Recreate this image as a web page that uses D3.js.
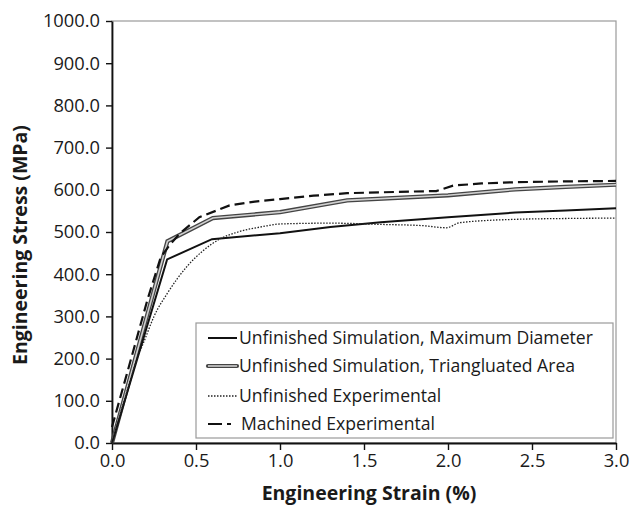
<!DOCTYPE html>
<html>
<head>
<meta charset="utf-8">
<script src="https://cdn.jsdelivr.net/npm/d3@7"></script>
<style>
  body { margin: 0; background: #fff; }
  svg { display: block; }
  .tick text { font-family: "Open Sans", sans-serif; font-size: 18.3px; fill: #1a1a1a; }
</style>
</head>
<body>
<div id="chart"></div>
<script>
// strain (%) vs stress (MPa)
const unfinishedSimMaxDiameter = [
  [0, 0], [0.328, 435], [0.595, 483], [1.0, 497], [1.3, 512], [1.6, 523], [2.0, 535], [2.4, 546], [2.7, 551], [3.0, 556]
];
const unfinishedSimTriangulated = [
  [0, 0], [0.33, 478], [0.6, 533], [1.0, 547], [1.4, 575], [2.0, 587], [2.4, 601], [2.7, 607], [3.0, 612]
];
const unfinishedExperimental = [
  [0, 0], [0.08, 110], [0.15, 200], [0.2, 250], [0.25, 300], [0.33, 355], [0.45, 420], [0.54, 455],
  [0.64, 483], [0.75, 500], [0.9, 513], [1.0, 519], [1.3, 521], [1.6, 518], [1.85, 515],
  [1.99, 510], [2.07, 522], [2.4, 530], [2.7, 532], [3.0, 533]
];
const machinedExperimental = [
  [0, 38], [0.1, 180], [0.21, 338], [0.29, 440], [0.345, 470], [0.405, 497], [0.52, 535], [0.7, 563],
  [0.85, 572], [1.0, 578], [1.2, 586], [1.4, 592], [1.6, 594], [1.8, 596], [1.93, 597], [2.03, 610],
  [2.2, 615], [2.4, 618], [2.7, 620], [3.0, 621]
];
const xTicks = [0, 0.5, 1.0, 1.5, 2.0, 2.5, 3.0];
const yTicks = [0, 100, 200, 300, 400, 500, 600, 700, 800, 900, 1000];
const legendLabels = [
  "Unfinished Simulation, Maximum Diameter",
  "Unfinished Simulation, Triangluated Area",
  "Unfinished Experimental",
  "Machined Experimental"
];

const W = 633, H = 507;
const margin = { top: 21, right: 17, bottom: 64, left: 112 };
const width = W - margin.left - margin.right;
const height = H - margin.top - margin.bottom;

const svg = d3.select("#chart").append("svg").attr("width", W).attr("height", H);
const chart = svg.append("g").attr("transform", `translate(${margin.left},${margin.top})`);

const x = d3.scaleLinear().domain([0, 3]).range([0, width]);
const y = d3.scaleLinear().domain([0, 1000]).range([height, 0]);

// plot area frame
chart.append("rect").attr("width", width).attr("height", height)
  .attr("fill", "none").attr("stroke", "#9a9a9a").attr("stroke-width", 1.2);

const xAxis = chart.append("g").attr("transform", `translate(0,${height})`)
  .call(d3.axisBottom(x).tickValues(xTicks).tickFormat(d3.format(".1f")).tickSizeInner(7).tickSizeOuter(0).tickPadding(4));
const yAxis = chart.append("g")
  .call(d3.axisLeft(y).tickValues(yTicks).tickFormat(d3.format(".1f")).tickSizeInner(6).tickSizeOuter(0).tickPadding(6));
[xAxis, yAxis].forEach(a => {
  a.select(".domain").attr("stroke", "#111").attr("stroke-width", 1.8);
  a.selectAll(".tick line").attr("stroke", "#111").attr("stroke-width", 1.4);
});

const line = d3.line().x(d => x(d[0])).y(d => y(d[1]));

// triangulated: double line (dark edge, light core)
chart.append("path").datum(unfinishedSimTriangulated).attr("d", line)
  .attr("fill", "none").attr("stroke", "#444").attr("stroke-width", 4.2);
chart.append("path").datum(unfinishedSimTriangulated).attr("d", line)
  .attr("fill", "none").attr("stroke", "#d0d0d0").attr("stroke-width", 1.6);
chart.append("path").datum(unfinishedSimMaxDiameter).attr("d", line)
  .attr("fill", "none").attr("stroke", "#111").attr("stroke-width", 2);
chart.append("path").datum(unfinishedExperimental).attr("d", d3.line().curve(d3.curveMonotoneX).x(d => x(d[0])).y(d => y(d[1])))
  .attr("fill", "none").attr("stroke", "#222").attr("stroke-width", 1.3).attr("stroke-dasharray", "1.5,1.5");
chart.append("path").datum(machinedExperimental).attr("d", line)
  .attr("fill", "none").attr("stroke", "#111").attr("stroke-width", 2.2).attr("stroke-dasharray", "10,5");

// legend
const legend = svg.append("g").attr("transform", "translate(196,323)");
legend.append("rect").attr("width", 417).attr("height", 115)
  .attr("fill", "#fff").attr("stroke", "#9a9a9a").attr("stroke-width", 1.2);
const rowY = [15, 43, 73, 101];
const sampleX0 = 12, sampleX1 = 41;
legend.append("line").attr("x1", sampleX0).attr("x2", sampleX1).attr("y1", rowY[0]).attr("y2", rowY[0])
  .attr("stroke", "#111").attr("stroke-width", 2);
legend.append("line").attr("x1", sampleX0).attr("x2", sampleX1).attr("y1", rowY[1]).attr("y2", rowY[1])
  .attr("stroke", "#444").attr("stroke-width", 4.2).attr("stroke-linecap", "round");
legend.append("line").attr("x1", sampleX0).attr("x2", sampleX1).attr("y1", rowY[1]).attr("y2", rowY[1])
  .attr("stroke", "#d0d0d0").attr("stroke-width", 1.6);
legend.append("line").attr("x1", sampleX0).attr("x2", sampleX1).attr("y1", rowY[2]).attr("y2", rowY[2])
  .attr("stroke", "#222").attr("stroke-width", 1.3).attr("stroke-dasharray", "1.5,1.5");
legend.append("line").attr("x1", sampleX0).attr("x2", sampleX1 + 2).attr("y1", rowY[3]).attr("y2", rowY[3])
  .attr("stroke", "#111").attr("stroke-width", 2.2).attr("stroke-dasharray", "14,5,4,20");
legend.selectAll("text.lbl").data(legendLabels).join("text").attr("class", "lbl")
  .attr("x", (d, i) => i === 3 ? 45 : 43).attr("y", (d, i) => rowY[i]).attr("dy", "0.35em")
  .attr("font-family", "'Open Sans', sans-serif").attr("font-size", 17.6).attr("fill", "#1a1a1a")
  .text(d => d);

// axis titles
svg.append("text").attr("x", 369).attr("y", 500)
  .attr("text-anchor", "middle").attr("font-family", "'Open Sans', sans-serif")
  .attr("font-weight", "bold").attr("font-size", 19.5).attr("fill", "#1a1a1a")
  .text("Engineering Strain (%)");
svg.append("text").attr("transform", "translate(27,245) rotate(-90)")
  .attr("text-anchor", "middle").attr("font-family", "'Open Sans', sans-serif")
  .attr("font-weight", "bold").attr("font-size", 19.5).attr("fill", "#1a1a1a")
  .text("Engineering Stress (MPa)");
</script>
</body>
</html>
